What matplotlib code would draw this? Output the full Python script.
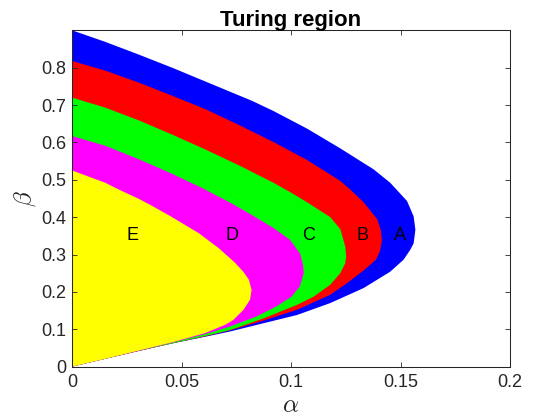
import matplotlib
matplotlib.use("Agg")
import matplotlib.pyplot as plt

# boundary points (alpha, beta), each region traced
# from (0, top) along the upper curve to the tip, then back to the origin
region_A = [(0, 0.900), (0.0152, 0.869), (0.0305, 0.835), (0.0457, 0.800),
            (0.0609, 0.763), (0.0823, 0.711), (0.0920, 0.684), (0.1073, 0.637),
            (0.1225, 0.584), (0.1377, 0.528), (0.1453, 0.492), (0.1530, 0.443),
            (0.1560, 0.402), (0.1568, 0.366), (0.1560, 0.330), (0.1545, 0.313),
            (0.1514, 0.286), (0.1453, 0.254), (0.1331, 0.210), (0.1179, 0.170),
            (0.1027, 0.138), (0.0874, 0.116), (0.0722, 0.094), (0.0609, 0.080),
            (0.0457, 0.062), (0.0305, 0.042), (0.0152, 0.021), (0, 0)]

region_B = [(0, 0.818), (0.0152, 0.792), (0.0305, 0.760), (0.0457, 0.725),
            (0.0609, 0.689), (0.0768, 0.645), (0.0920, 0.601), (0.1073, 0.553),
            (0.1225, 0.497), (0.1263, 0.478), (0.1331, 0.440), (0.1393, 0.395),
            (0.1410, 0.366), (0.1415, 0.339), (0.1407, 0.310), (0.1388, 0.286),
            (0.1331, 0.257), (0.1255, 0.223), (0.1179, 0.192), (0.1027, 0.152),
            (0.0874, 0.123), (0.0722, 0.097), (0.0609, 0.081), (0.0457, 0.062),
            (0.0305, 0.042), (0.0152, 0.021), (0, 0)]

region_C = [(0, 0.720), (0.0152, 0.693), (0.0305, 0.659), (0.0457, 0.621),
            (0.0609, 0.581), (0.0768, 0.537), (0.0920, 0.492), (0.0996, 0.467),
            (0.1073, 0.440), (0.1179, 0.400), (0.1225, 0.368), (0.1248, 0.321),
            (0.1252, 0.295), (0.1248, 0.277), (0.1225, 0.250), (0.1179, 0.219),
            (0.1103, 0.187), (0.1027, 0.165), (0.0874, 0.129), (0.0722, 0.098),
            (0.0609, 0.082), (0.0457, 0.062), (0.0305, 0.042), (0.0152, 0.021),
            (0, 0)]

region_D = [(0, 0.617), (0.0152, 0.591), (0.0305, 0.555), (0.0457, 0.516),
            (0.0594, 0.478), (0.0686, 0.450), (0.0731, 0.436), (0.0823, 0.405),
            (0.0920, 0.371), (0.0996, 0.339), (0.1042, 0.302), (0.1055, 0.272),
            (0.1058, 0.250), (0.1040, 0.214), (0.1002, 0.187), (0.0933, 0.161),
            (0.0842, 0.134), (0.0720, 0.107), (0.0609, 0.087), (0.0457, 0.064),
            (0.0305, 0.042), (0.0152, 0.021), (0, 0)]

region_E = [(0, 0.525), (0.0152, 0.492), (0.0213, 0.474), (0.0305, 0.449),
            (0.0366, 0.430), (0.0457, 0.400), (0.0579, 0.357), (0.0670, 0.317),
            (0.0746, 0.277), (0.0785, 0.252), (0.0808, 0.232), (0.0820, 0.205),
            (0.0813, 0.179), (0.0783, 0.152), (0.0737, 0.125), (0.0700, 0.112),
            (0.0609, 0.090), (0.0457, 0.065), (0.0305, 0.043), (0.0152, 0.021),
            (0, 0)]

regions = [region_A, region_B, region_C, region_D, region_E]
colors = ['#0000ff', '#ff0000', '#00ff00', '#ff00ff', '#ffff00']

labels = ['A', 'B', 'C', 'D', 'E']
label_x = [0.147, 0.130, 0.105, 0.070, 0.025]
label_y = 0.35

plt.rcParams['font.family'] = ['Liberation Sans', 'DejaVu Sans']
plt.rcParams['mathtext.fontset'] = 'cm'

fig = plt.figure(figsize=(5.6, 4.2), dpi=100)
ax = fig.add_axes([72 / 560, 53.4 / 420, 438 / 560, 336.3 / 420])

for pts, c in zip(regions, colors):
    xs = [p[0] for p in pts]
    ys = [p[1] for p in pts]
    ax.fill(xs, ys, color=c, edgecolor='none', linewidth=0)

for lab, lx in zip(labels, label_x):
    ax.text(lx, label_y, lab, fontsize=13, ha='left', va='center', color='black')

ax.set_xlim(0, 0.2)
ax.set_ylim(0, 0.9)
ax.set_xticks([0, 0.05, 0.1, 0.15, 0.2])
ax.set_xticklabels(['0', '0.05', '0.1', '0.15', '0.2'])
ax.set_yticks([0, 0.1, 0.2, 0.3, 0.4, 0.5, 0.6, 0.7, 0.8])
ax.set_yticklabels(['0', '0.1', '0.2', '0.3', '0.4', '0.5', '0.6', '0.7', '0.8'])

axis_col = '#262626'
ax.tick_params(direction='in', top=True, right=True, length=3.6, width=0.6,
               labelsize=13, colors=axis_col, pad=5)
ax.tick_params(axis='y', pad=4)
for s in ax.spines.values():
    s.set_color(axis_col)
    s.set_linewidth(0.75)

ax.set_xlabel(r'$\alpha$', fontsize=18, color=axis_col, labelpad=2)
ax.set_ylabel(r'$\beta$', fontsize=18, color=axis_col, labelpad=2.5)
ax.set_title('Turing region', fontsize=16, fontweight='bold', pad=3)

fig.savefig('out.png', dpi=100)
